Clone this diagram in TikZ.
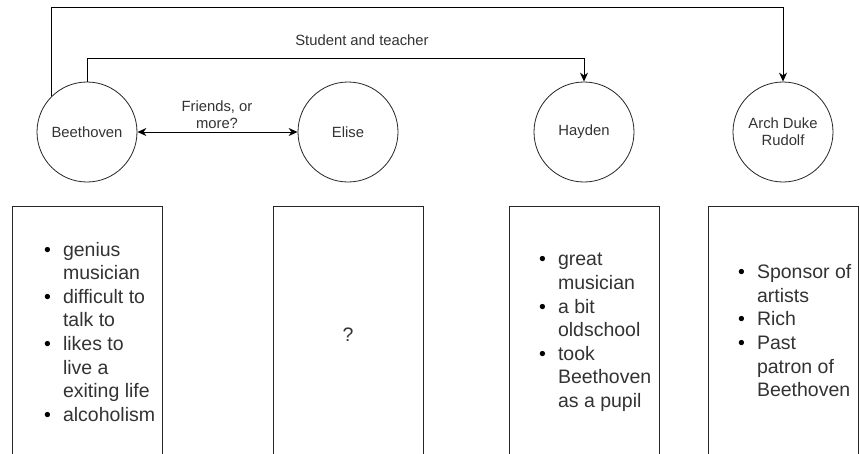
\documentclass[tikz,border=0pt]{standalone}
\usepackage{fontspec}
\setmainfont{Liberation Sans}
\usetikzlibrary{arrows.meta}
\definecolor{txt}{HTML}{333333}
\tikzset{
  person/.style={circle, draw=black!85, line width=0.8pt, minimum size=100pt, inner sep=0pt,
    font=\fontsize{14.8}{17}\selectfont, text=txt, align=center},
  infobox/.style={draw=black!85, line width=0.9pt},
  listtext/.style={inner sep=0pt, anchor=west, font=\fontsize{19.5}{23.6}\selectfont, text=txt},
  lbl/.style={inner sep=0pt, font=\fontsize{14.8}{17}\selectfont, text=txt, align=center},
  conn/.style={line width=0.9pt, -{Stealth[length=9pt,width=8pt]}},
  dconn/.style={line width=0.9pt, {Stealth[length=9pt,width=8pt]}-{Stealth[length=9pt,width=8pt]}}
}
\newcommand{\blt}{{\color{black}\textbullet}}
\begin{document}
\begin{tikzpicture}[x=1pt,y=-1pt]
\useasboundingbox (0,0) rectangle (860,453);
\fill[white] (0,0) rectangle (860,453);

\node[person] (B) at (87,132) {Beethoven};
\node[person] (E) at (348,132) {Elise};
\node[person] (H) at (584,132) {Hayden};
\node[person] (R) at (783,132) {Arch Duke\\Rudolf};

\coordinate (ytop) at (430,7);
\coordinate (ymid) at (330,58);
\draw[conn] (B.135) -- (B.135 |- ytop) -| (R.north);
\draw[conn] (B.north) -- (B.north |- ymid) -| (H.north);
\node[lbl] (st) at (362,40) {Student and teacher};
\draw[dconn] (B) -- (E);
\node[lbl] (fr) at (217,115) {Friends, or\\more?};

\draw[infobox] (12,470) rectangle (162,206);
\draw[infobox] (273,470) rectangle (423,206);
\draw[infobox] (509,470) rectangle (659,206);
\draw[infobox] (708,470) rectangle (858,206);

\node[listtext] (lb) at (44,334) {\begin{tabular}{@{}l@{\hspace{12pt}}l@{}}
\blt & genius\\ & musician\\ \blt & difficult to\\ & talk to\\ \blt & likes to\\ & live a\\ & exiting life\\ \blt & alcoholism\end{tabular}};
\node[listtext, anchor=center] (le) at (348,335) {?};
\node[listtext] (lh) at (539,332) {\begin{tabular}{@{}l@{\hspace{12pt}}l@{}}
\blt & great\\ & musician\\ \blt & a bit\\ & oldschool\\ \blt & took\\ & Beethoven\\ & as a pupil\end{tabular}};
\node[listtext] (lr) at (738,333) {\begin{tabular}{@{}l@{\hspace{12pt}}l@{}}
\blt & Sponsor of\\ & artists\\ \blt & Rich\\ \blt & Past\\ & patron of\\ & Beethoven\end{tabular}};
\end{tikzpicture}
\end{document}
